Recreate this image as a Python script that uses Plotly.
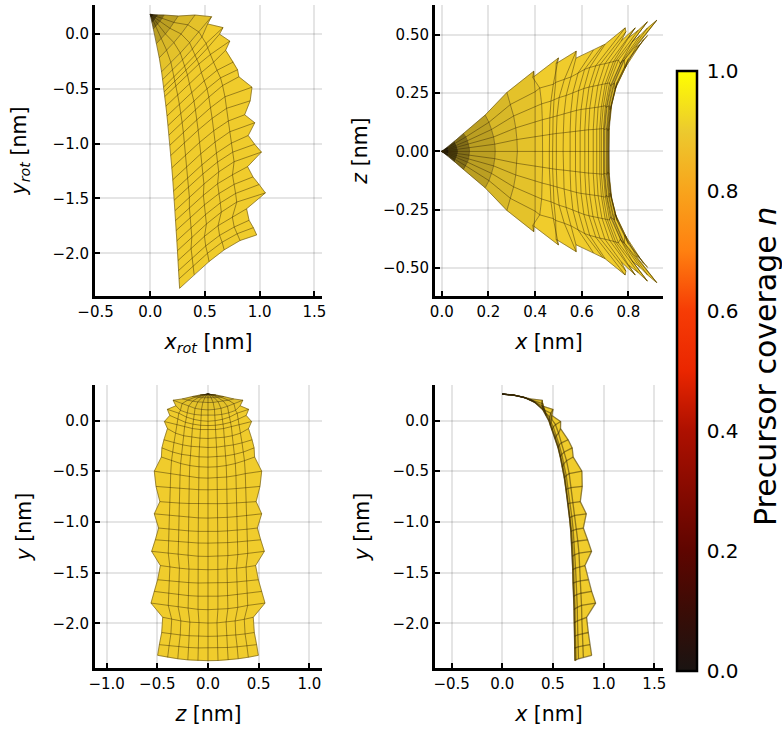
import plotly.graph_objects as go
from plotly.subplots import make_subplots

# Half of the surface mesh (z >= 0), rows run from the apex to the far end
mesh_z = [
 [0,0,0,0,0,0],[0,.004,.008,.011,.015,.019],[0,.009,.018,.027,.036,.045],[0,.015,.031,.046,.062,.077],
 [0,.031,.062,.094,.125,.156],[0,.051,.101,.152,.202,.253],[0,.064,.128,.192,.256,.344],[0,.068,.136,.204,.272,.317],
 [0,.072,.144,.216,.288,.401],[0,.074,.148,.222,.296,.377],
 [0,.077,.154,.231,.308,.43],[0,.08,.16,.24,.32,.40],[0,.084,.168,.252,.336,.435],[0,.088,.176,.264,.352,.455],
 [0,.09,.18,.27,.36,.46],[0,.092,.184,.276,.368,.53],[0,.093,.186,.279,.372,.513],[0,.094,.188,.282,.376,.475],
 [0,.095,.19,.285,.38,.53],[0,.096,.192,.288,.384,.487],[0,.097,.194,.291,.388,.52],[0,.098,.196,.294,.392,.556],
 [0,.094,.188,.282,.376,.47],[0,.096,.192,.288,.384,.497],[0,.097,.194,.291,.388,.53],[0,.098,.196,.294,.392,.5625],
 [0,.089,.179,.268,.358,.447],[0,.091,.183,.274,.366,.457],[0,.096,.192,.288,.384,.48],[0,.099,.199,.298,.398,.497],
]
mesh_x = [
 [0,0,0,0,0,0],[.03,.0298,.029,.028,.0265,.025],[.07,.069,.067,.063,.059,.056],[.119,.118,.115,.11,.103,.093],
 [.229,.227,.222,.213,.202,.186],[.324,.322,.317,.308,.295,.279],[.4,.4,.4,.4,.4,.394],[.432,.432,.431,.428,.42,.39],
 [.461,.461,.463,.468,.478,.5],[.475,.475,.477,.481,.488,.49],
 [.49,.491,.494,.503,.525,.576],[.52,.521,.524,.533,.555,.575],[.549,.55,.553,.562,.584,.65],[.572,.573,.577,.587,.612,.69],
 [.592,.593,.597,.609,.634,.7],[.612,.613,.618,.631,.66,.786],[.628,.629,.634,.648,.678,.789],[.648,.649,.655,.669,.699,.77],
 [.663,.664,.67,.686,.718,.829],[.676,.677,.684,.7,.735,.8],[.683,.684,.692,.709,.745,.842],[.692,.693,.701,.719,.757,.881],
 [.695,.696,.705,.723,.765,.816],[.698,.699,.708,.729,.77,.849],[.705,.706,.715,.736,.778,.882],[.708,.709,.718,.74,.782,.921],
 [.71,.711,.72,.742,.785,.832],[.714,.715,.724,.746,.79,.849],[.714,.715,.725,.748,.795,.865],[.717,.718,.728,.752,.8,.882],
]
mesh_y = [
 [.26,.26,.26,.26,.26,.26],[.258,.258,.258,.258,.258,.258],[.255,.255,.255,.255,.255,.255],[.25,.25,.25,.251,.251,.252],
 [.223,.224,.225,.228,.231,.236],[.177,.178,.183,.19,.2,.213],[.105,.109,.12,.14,.166,.2],[.05,.053,.06,.075,.1,.145],
 [-.007,-.002,.012,.035,.072,.11],[-.05,-.047,-.036,-.018,.012,.05],
 [-.092,-.089,-.079,-.063,-.041,-.01],[-.177,-.174,-.165,-.15,-.125,-.08],[-.266,-.263,-.254,-.24,-.22,-.19],[-.361,-.358,-.349,-.333,-.31,-.27],
 [-.46,-.456,-.444,-.424,-.396,-.36],[-.568,-.565,-.557,-.543,-.524,-.5],[-.683,-.682,-.678,-.671,-.662,-.65],[-.821,-.82,-.818,-.814,-.81,-.8],
 [-.962,-.96,-.955,-.947,-.935,-.92],[-1.094,-1.093,-1.088,-1.082,-1.072,-1.06],[-1.209,-1.208,-1.204,-1.197,-1.188,-1.176],[-1.34,-1.338,-1.332,-1.322,-1.308,-1.29],
 [-1.471,-1.469,-1.465,-1.456,-1.445,-1.43],[-1.603,-1.602,-1.598,-1.591,-1.582,-1.57],[-1.734,-1.732,-1.726,-1.716,-1.703,-1.685],[-1.865,-1.862,-1.855,-1.842,-1.823,-1.8],
 [-1.997,-1.995,-1.988,-1.976,-1.96,-1.94],[-2.128,-2.126,-2.122,-2.114,-2.104,-2.09],[-2.243,-2.242,-2.238,-2.231,-2.221,-2.21],[-2.368,-2.366,-2.36,-2.349,-2.334,-2.315],
]
# how dark each band between neighbouring rows looks near the apex (0 = plain surface colour)
band_shade = [.92, .7, .46, .22, .1, .05, .03] + [0] * 22
SURFACE_COLOR = (240, 204, 44)

# colour bar stops
cbar_stops = [0, .1, .2, .3, .4, .5, .6, .7, .8, .9, 1]
cbar_colors = ["#1a1412", "#3a0c06", "#5e0500", "#860a00", "#ad1000", "#ea2600", "#f63c05", "#ff8010", "#f8a41c", "#ecca2e", "#ffff00"]

x_ticks_tl = [-0.5, 0, 0.5, 1, 1.5]
x_ticks_tr = [0, 0.2, 0.4, 0.6, 0.8]
y_ticks_tr = [-0.5, -0.25, 0, 0.25, 0.5]
y_ticks_tl = [-2, -1.5, -1, -0.5, 0]
z_ticks_bl = [-1, -0.5, 0, 0.5, 1]
cbar_ticks = [0, .2, .4, .6, .8, 1]

# the rotated view is a linear view of the same mesh (coefficients fitted by eye to its corners)
ROT_X = (.246, -.035, 1.34)
ROT_Y = (-1.053, .664, 1.259)
APEX_Y = .26
ROT_Y0 = .18


def add_surface(fig, U, V, r, c, lw=0.9):
    nr, nc = len(U), len(U[0])
    groups = {}
    for i in range(nr - 1):
        xs, ys = groups.setdefault(band_shade[i], ([], []))
        for j in range(nc - 1):
            xs += [U[i][j], U[i][j + 1], U[i + 1][j + 1], U[i + 1][j], U[i][j], None]
            ys += [V[i][j], V[i][j + 1], V[i + 1][j + 1], V[i + 1][j], V[i][j], None]
    for s, (xs, ys) in groups.items():
        col = "rgb(%d,%d,%d)" % tuple(round(p * (1 - s)) for p in SURFACE_COLOR)
        fig.add_trace(go.Scatter(x=xs, y=ys, mode="lines", fill="toself", fillcolor=col,
                                 line=dict(color=col, width=0.5), hoverinfo="skip", showlegend=False), row=r, col=c)
    lx, ly = [], []
    for i in range(3, nr):
        lx += list(U[i]) + [None]
        ly += list(V[i]) + [None]
    for j in range(nc):
        lx += [U[i][j] for i in range(nr)] + [None]
        ly += [V[i][j] for i in range(nr)] + [None]
    fig.add_trace(go.Scatter(x=lx, y=ly, mode="lines", line=dict(color="rgba(50,35,5,0.5)", width=lw),
                             hoverinfo="skip", showlegend=False), row=r, col=c)


def mirrored(rows, sign_flip):
    out = []
    for row in rows:
        other = [(-v if sign_flip else v) for v in row[:0:-1]]
        out.append(other + list(row))
    return out


fig = make_subplots(rows=2, cols=2)

x_rot = [[ROT_X[0] * x + ROT_X[1] * (y - APEX_Y) + ROT_X[2] * z for x, y, z in zip(xr, yr, zr)]
         for xr, yr, zr in zip(mesh_x, mesh_y, mesh_z)]
y_rot = [[ROT_Y0 + ROT_Y[0] * x + ROT_Y[1] * (y - APEX_Y) + ROT_Y[2] * z for x, y, z in zip(xr, yr, zr)]
         for xr, yr, zr in zip(mesh_x, mesh_y, mesh_z)]

add_surface(fig, x_rot, y_rot, 1, 1)
add_surface(fig, mirrored(mesh_x, False), mirrored(mesh_z, True), 1, 2)
add_surface(fig, mirrored(mesh_z, True), mirrored(mesh_y, False), 2, 1)
add_surface(fig, mesh_x, mesh_y, 2, 2, lw=1.3)

W, H = 782, 729
CB_LEFT, CB_RIGHT, CB_TOP, CB_BOTTOM = 677, 697, 71, 671

fig.add_trace(go.Scatter(
    x=[None, None], y=[None, None], mode="markers", hoverinfo="skip", showlegend=False,
    marker=dict(color=[0, 1], cmin=0, cmax=1, showscale=True,
                colorscale=[[s, c] for s, c in zip(cbar_stops, cbar_colors)],
                colorbar=dict(x=CB_LEFT / W, xanchor="left", xpad=0, y=1 - CB_BOTTOM / H, yanchor="bottom", ypad=0,
                              lenmode="fraction", len=(CB_BOTTOM - CB_TOP) / H, thickness=CB_RIGHT - CB_LEFT,
                              thicknessmode="pixels", outlinecolor="black", outlinewidth=2.5,
                              tickvals=cbar_ticks, tickformat=".1f", ticks="outside", ticklen=5,
                              tickcolor="rgba(0,0,0,0)", tickwidth=1, tickfont=dict(size=20, color="black"))),
), row=2, col=2)

# colour bar ticks sit inside the bar in the reference
for v in cbar_ticks[1:-1]:
    yy = 1 - (CB_BOTTOM - v * (CB_BOTTOM - CB_TOP)) / H
    fig.add_shape(type="line", xref="paper", yref="paper", x0=(CB_RIGHT - 6) / W, x1=CB_RIGHT / W, y0=yy, y1=yy,
                  line=dict(color="black", width=1.2))

fig.add_annotation(text="Precursor coverage <i>n</i>", xref="paper", yref="paper", x=765 / W, y=1 - 367 / H,
                   textangle=-90, showarrow=False, font=dict(size=30, color="black"), xanchor="center", yanchor="middle")

panels = {
    (1, 1): dict(px=(95, 322), py=(5, 296), xr=(-.505, 1.57), yr=(-2.39, .265), xt=x_ticks_tl, yt=y_ticks_tl, ys=21,
                 xf=".1f", yf=".1f", xtitle="<i>x<sub>rot</sub></i> [nm]", ytitle="<i>y<sub>rot</sub></i> [nm]"),
    (1, 2): dict(px=(435, 663), py=(5, 296), xr=(-.029, .948), yr=(-.62, .628), xt=x_ticks_tr, yt=y_ticks_tr, ys=10,
                 xf=".1f", yf=".2f", xtitle="<i>x</i> [nm]", ytitle="<i>z</i> [nm]"),
    (2, 1): dict(px=(95, 322), py=(385, 668), xr=(-1.115, 1.125), yr=(-2.44, .35), xt=z_ticks_bl, yt=y_ticks_tl, ys=16,
                 xf=".1f", yf=".1f", xtitle="<i>z</i> [nm]", ytitle="<i>y</i> [nm]"),
    (2, 2): dict(px=(435, 663), py=(385, 668), xr=(-.664, 1.586), yr=(-2.44, .35), xt=x_ticks_tl, yt=y_ticks_tl, ys=18,
                 xf=".1f", yf=".1f", xtitle="<i>x</i> [nm]", ytitle="<i>y</i> [nm]"),
}
for (r, c), p in panels.items():
    common = dict(ticks="inside", ticklen=5, tickcolor="black", tickwidth=1.5, showline=True, linecolor="black",
                  linewidth=3, showgrid=True, gridcolor="rgba(0,0,0,0.1)", gridwidth=1.5, zeroline=False,
                  tickfont=dict(size=15, color="black"), automargin=False)
    fig.update_xaxes(row=r, col=c, domain=[p["px"][0] / W, p["px"][1] / W], range=list(p["xr"]),
                     tickvals=p["xt"], tickformat=p["xf"],
                     title=dict(text=p["xtitle"], font=dict(size=20.5, color="black"), standoff=15), **common)
    fig.update_yaxes(row=r, col=c, domain=[1 - p["py"][1] / H, 1 - p["py"][0] / H], range=list(p["yr"]),
                     tickvals=p["yt"], tickformat=p["yf"],
                     title=dict(text=p["ytitle"], font=dict(size=20.5, color="black"), standoff=p["ys"]), **common)

fig.update_layout(width=W, height=H, margin=dict(l=0, r=0, t=0, b=0), paper_bgcolor="white", plot_bgcolor="white",
                  font=dict(family="DejaVu Sans", color="black"), showlegend=False)
fig.write_html("out.html", post_script="document.body.style.margin='0';", config={"displayModeBar": False})
